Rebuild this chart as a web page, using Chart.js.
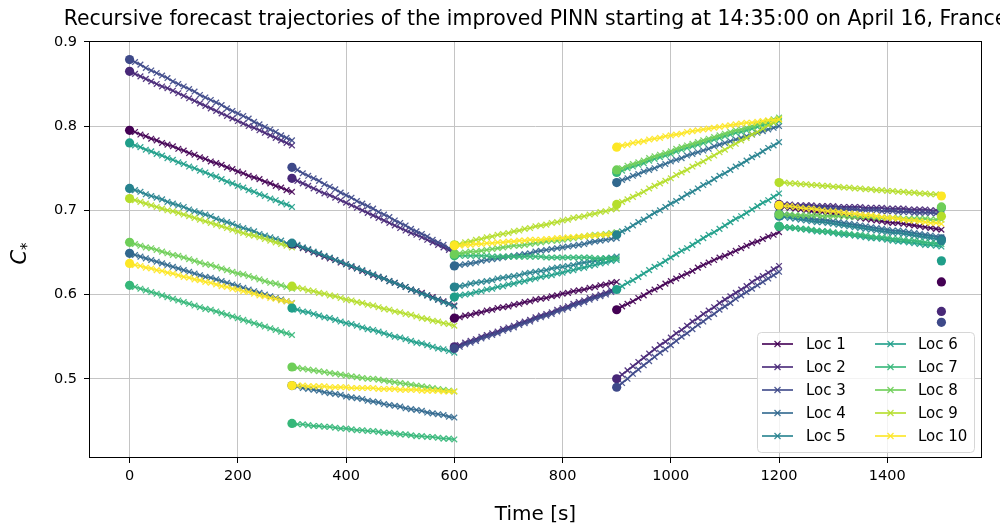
<!DOCTYPE html>
<html>
<head>
<meta charset="utf-8">
<script src="https://cdn.jsdelivr.net/npm/chart.js@4.4.1/dist/chart.umd.min.js"></script>
<style>
  html, body { margin: 0; padding: 0; background: #fff; }
  #wrap { width: 1000px; height: 528px; }
</style>
</head>
<body>
<div id="wrap"><canvas id="forecastChart" width="1000" height="528"></canvas></div>
<script>
const chartTitle = 'Recursive forecast trajectories of the improved PINN starting at 14:35:00 on April 16, France';
const xLabel = 'Time [s]';

const locNames = ['Loc 1', 'Loc 2', 'Loc 3', 'Loc 4', 'Loc 5', 'Loc 6', 'Loc 7', 'Loc 8', 'Loc 9', 'Loc 10'];
const locColors = ['#440154', '#482878', '#3e4989', '#31688e', '#26828e', '#1f9e89', '#35b779', '#6ece58', '#b5de2b', '#fde725'];

// each forecast window starts at an observation and runs 300 s in 10 s steps
const segmentStarts = [0, 300, 600, 900, 1200];
const stepOffsets = [0, 10, 20, 30, 40, 50, 60, 70, 80, 90, 100, 110, 120, 130, 140, 150,
    160, 170, 180, 190, 200, 210, 220, 230, 240, 250, 260, 270, 280, 290, 300];
const observedTimes = [0, 300, 600, 900, 1200, 1500];

const xTicks = [0, 200, 400, 600, 800, 1000, 1200, 1400];
const yTicks = [0.5, 0.6, 0.7, 0.8, 0.9];

const loc1Forecast = [
    [0.795,0.793,0.790,0.788,0.785,0.783,0.780,0.778,0.776,0.773,0.771,0.768,0.766,0.763,0.761,0.758,0.756,0.754,0.751,0.749,0.746,0.744,0.741,0.739,0.737,0.734,0.732,0.729,0.727,0.724,0.722],
    [0.660,0.658,0.655,0.653,0.650,0.648,0.645,0.643,0.641,0.638,0.636,0.633,0.631,0.628,0.626,0.623,0.621,0.619,0.616,0.614,0.611,0.609,0.606,0.604,0.602,0.599,0.597,0.594,0.592,0.589,0.587],
    [0.572,0.573,0.575,0.576,0.578,0.579,0.581,0.582,0.584,0.585,0.586,0.588,0.589,0.591,0.592,0.594,0.595,0.596,0.598,0.599,0.601,0.602,0.604,0.605,0.606,0.608,0.609,0.611,0.612,0.614,0.615],
    [0.582,0.586,0.589,0.592,0.596,0.599,0.603,0.606,0.609,0.613,0.616,0.619,0.622,0.625,0.628,0.632,0.635,0.638,0.641,0.644,0.646,0.649,0.652,0.655,0.658,0.661,0.663,0.666,0.669,0.671,0.674],
    [0.705,0.704,0.703,0.702,0.701,0.700,0.699,0.698,0.698,0.697,0.696,0.695,0.694,0.693,0.692,0.691,0.690,0.689,0.688,0.687,0.686,0.685,0.685,0.684,0.683,0.682,0.681,0.680,0.679,0.678,0.677]
];
const loc1Observed = [0.795, 0.660, 0.572, 0.582, 0.705, 0.615];

const loc2Forecast = [
    [0.865,0.862,0.859,0.856,0.853,0.850,0.847,0.845,0.842,0.839,0.836,0.833,0.830,0.827,0.824,0.821,0.818,0.815,0.812,0.809,0.806,0.803,0.800,0.798,0.795,0.792,0.789,0.786,0.783,0.780,0.777],
    [0.738,0.735,0.732,0.729,0.726,0.723,0.720,0.718,0.715,0.712,0.709,0.706,0.703,0.700,0.697,0.694,0.691,0.688,0.685,0.682,0.679,0.676,0.673,0.671,0.668,0.665,0.662,0.659,0.656,0.653,0.649],
    [0.538,0.540,0.543,0.545,0.547,0.550,0.552,0.554,0.556,0.559,0.561,0.563,0.566,0.568,0.570,0.573,0.575,0.577,0.579,0.582,0.584,0.586,0.589,0.591,0.593,0.596,0.598,0.600,0.602,0.605,0.607],
    [0.500,0.505,0.510,0.515,0.520,0.525,0.530,0.535,0.540,0.544,0.549,0.554,0.558,0.563,0.568,0.572,0.577,0.581,0.585,0.590,0.594,0.598,0.602,0.606,0.610,0.615,0.619,0.622,0.626,0.630,0.634],
    [0.707,0.707,0.707,0.706,0.706,0.706,0.706,0.705,0.705,0.705,0.705,0.704,0.704,0.704,0.704,0.704,0.703,0.703,0.703,0.703,0.702,0.702,0.702,0.702,0.701,0.701,0.701,0.701,0.700,0.700,0.700]
];
const loc2Observed = [0.865, 0.738, 0.538, 0.500, 0.707, 0.580];

const loc3Forecast = [
    [0.879,0.876,0.873,0.869,0.866,0.863,0.860,0.857,0.853,0.850,0.847,0.844,0.841,0.837,0.834,0.831,0.828,0.825,0.821,0.818,0.815,0.812,0.809,0.805,0.802,0.799,0.796,0.793,0.789,0.786,0.783],
    [0.751,0.748,0.744,0.741,0.738,0.735,0.731,0.728,0.725,0.721,0.718,0.715,0.711,0.708,0.705,0.702,0.698,0.695,0.692,0.688,0.685,0.682,0.678,0.675,0.672,0.669,0.665,0.662,0.659,0.655,0.652],
    [0.536,0.538,0.541,0.543,0.545,0.548,0.550,0.552,0.554,0.557,0.559,0.561,0.564,0.566,0.568,0.571,0.573,0.575,0.577,0.580,0.582,0.584,0.587,0.589,0.591,0.594,0.596,0.598,0.600,0.603,0.605],
    [0.490,0.495,0.500,0.506,0.511,0.516,0.521,0.526,0.531,0.535,0.540,0.545,0.550,0.554,0.559,0.564,0.568,0.573,0.577,0.582,0.586,0.590,0.595,0.599,0.603,0.607,0.611,0.615,0.619,0.623,0.627],
    [0.705,0.705,0.704,0.704,0.704,0.704,0.703,0.703,0.703,0.702,0.702,0.702,0.701,0.701,0.701,0.700,0.700,0.700,0.700,0.699,0.699,0.699,0.698,0.698,0.698,0.697,0.697,0.697,0.697,0.696,0.696]
];
const loc3Observed = [0.879, 0.751, 0.536, 0.490, 0.705, 0.567];

const loc4Forecast = [
    [0.649,0.647,0.645,0.643,0.641,0.639,0.637,0.635,0.633,0.631,0.629,0.627,0.625,0.623,0.621,0.620,0.618,0.616,0.614,0.612,0.610,0.608,0.606,0.604,0.602,0.600,0.598,0.596,0.594,0.592,0.590],
    [0.492,0.491,0.489,0.488,0.487,0.486,0.484,0.483,0.482,0.481,0.479,0.478,0.477,0.476,0.474,0.473,0.472,0.470,0.469,0.468,0.467,0.465,0.464,0.463,0.462,0.460,0.459,0.458,0.457,0.455,0.454],
    [0.634,0.635,0.636,0.637,0.638,0.640,0.641,0.642,0.643,0.644,0.645,0.646,0.647,0.648,0.649,0.651,0.652,0.653,0.654,0.655,0.656,0.657,0.658,0.659,0.660,0.662,0.663,0.664,0.665,0.666,0.667],
    [0.733,0.736,0.738,0.741,0.743,0.746,0.748,0.750,0.753,0.755,0.758,0.760,0.762,0.765,0.767,0.769,0.771,0.773,0.776,0.778,0.780,0.782,0.784,0.786,0.788,0.790,0.792,0.794,0.796,0.798,0.800],
    [0.696,0.695,0.694,0.693,0.692,0.691,0.690,0.689,0.689,0.688,0.687,0.686,0.685,0.684,0.683,0.682,0.681,0.680,0.679,0.678,0.677,0.676,0.676,0.675,0.674,0.673,0.672,0.671,0.670,0.669,0.668]
];
const loc4Observed = [0.649, 0.492, 0.634, 0.733, 0.696, 0.666];

const loc5Forecast = [
    [0.726,0.724,0.722,0.719,0.717,0.715,0.713,0.710,0.708,0.706,0.704,0.701,0.699,0.697,0.695,0.693,0.690,0.688,0.686,0.684,0.681,0.679,0.677,0.675,0.672,0.670,0.668,0.666,0.664,0.661,0.659],
    [0.661,0.659,0.656,0.654,0.651,0.649,0.646,0.644,0.641,0.639,0.636,0.634,0.631,0.629,0.626,0.624,0.621,0.619,0.616,0.614,0.611,0.609,0.606,0.604,0.601,0.599,0.596,0.594,0.591,0.589,0.586],
    [0.609,0.610,0.611,0.613,0.614,0.615,0.616,0.617,0.619,0.620,0.621,0.622,0.623,0.625,0.626,0.627,0.628,0.629,0.631,0.632,0.633,0.634,0.635,0.637,0.638,0.639,0.640,0.641,0.643,0.644,0.645],
    [0.671,0.675,0.678,0.682,0.686,0.689,0.693,0.697,0.700,0.704,0.708,0.711,0.715,0.719,0.722,0.726,0.730,0.733,0.737,0.741,0.744,0.748,0.752,0.755,0.759,0.763,0.766,0.770,0.774,0.777,0.781],
    [0.693,0.692,0.691,0.690,0.689,0.688,0.687,0.686,0.686,0.685,0.684,0.683,0.682,0.681,0.680,0.679,0.678,0.677,0.676,0.675,0.674,0.673,0.673,0.672,0.671,0.670,0.669,0.668,0.667,0.666,0.665]
];
const loc5Observed = [0.726, 0.661, 0.609, 0.671, 0.693, 0.664];

const loc6Forecast = [
    [0.780,0.777,0.775,0.772,0.770,0.767,0.765,0.762,0.760,0.757,0.755,0.752,0.750,0.747,0.745,0.742,0.740,0.737,0.734,0.732,0.729,0.727,0.724,0.722,0.719,0.717,0.714,0.712,0.709,0.707,0.704],
    [0.584,0.582,0.580,0.579,0.577,0.575,0.573,0.572,0.570,0.568,0.566,0.565,0.563,0.561,0.559,0.558,0.556,0.554,0.552,0.550,0.549,0.547,0.545,0.543,0.542,0.540,0.538,0.536,0.535,0.533,0.531],
    [0.597,0.599,0.600,0.601,0.603,0.604,0.606,0.607,0.609,0.610,0.612,0.613,0.615,0.616,0.618,0.619,0.621,0.622,0.623,0.625,0.626,0.628,0.629,0.631,0.632,0.634,0.635,0.637,0.638,0.640,0.641],
    [0.606,0.610,0.614,0.617,0.621,0.625,0.629,0.633,0.636,0.640,0.644,0.648,0.652,0.655,0.659,0.663,0.667,0.671,0.674,0.678,0.682,0.686,0.690,0.693,0.697,0.701,0.705,0.709,0.712,0.716,0.720],
    [0.681,0.680,0.679,0.679,0.678,0.677,0.676,0.675,0.675,0.674,0.673,0.672,0.671,0.671,0.670,0.669,0.668,0.667,0.667,0.666,0.665,0.664,0.663,0.663,0.662,0.661,0.660,0.659,0.659,0.658,0.657]
];
const loc6Observed = [0.780, 0.584, 0.597, 0.606, 0.681, 0.640];

const loc7Forecast = [
    [0.611,0.609,0.607,0.605,0.603,0.601,0.599,0.597,0.595,0.593,0.591,0.589,0.587,0.585,0.583,0.582,0.580,0.578,0.576,0.574,0.572,0.570,0.568,0.566,0.564,0.562,0.560,0.558,0.556,0.554,0.552],
    [0.447,0.446,0.446,0.445,0.444,0.444,0.443,0.443,0.442,0.441,0.441,0.440,0.439,0.439,0.438,0.438,0.437,0.436,0.436,0.435,0.434,0.434,0.433,0.432,0.432,0.431,0.431,0.430,0.429,0.429,0.428],
    [0.646,0.646,0.646,0.646,0.646,0.646,0.646,0.645,0.645,0.645,0.645,0.645,0.645,0.645,0.645,0.645,0.645,0.644,0.644,0.644,0.644,0.644,0.644,0.644,0.644,0.644,0.643,0.643,0.643,0.643,0.643],
    [0.745,0.747,0.750,0.752,0.754,0.756,0.759,0.761,0.763,0.765,0.767,0.770,0.772,0.774,0.776,0.778,0.780,0.782,0.784,0.786,0.788,0.790,0.792,0.793,0.795,0.797,0.799,0.801,0.803,0.804,0.806],
    [0.681,0.680,0.680,0.679,0.678,0.678,0.677,0.676,0.675,0.675,0.674,0.673,0.673,0.672,0.671,0.671,0.670,0.669,0.668,0.668,0.667,0.666,0.666,0.665,0.664,0.664,0.663,0.662,0.661,0.661,0.660]
];
const loc7Observed = [0.611, 0.447, 0.646, 0.745, 0.681, 0.703];

const loc8Forecast = [
    [0.662,0.660,0.658,0.656,0.655,0.653,0.651,0.649,0.647,0.646,0.644,0.642,0.640,0.638,0.636,0.635,0.633,0.631,0.629,0.627,0.625,0.624,0.622,0.620,0.618,0.616,0.614,0.613,0.611,0.609,0.607],
    [0.514,0.513,0.512,0.511,0.510,0.509,0.508,0.507,0.506,0.505,0.504,0.503,0.502,0.501,0.500,0.500,0.499,0.498,0.497,0.496,0.495,0.494,0.493,0.492,0.491,0.490,0.489,0.488,0.487,0.486,0.485],
    [0.648,0.649,0.650,0.651,0.651,0.652,0.653,0.654,0.655,0.656,0.657,0.658,0.658,0.659,0.660,0.661,0.662,0.663,0.664,0.664,0.665,0.666,0.667,0.668,0.669,0.670,0.671,0.671,0.672,0.673,0.674],
    [0.748,0.750,0.753,0.755,0.757,0.759,0.762,0.764,0.766,0.768,0.770,0.773,0.775,0.777,0.779,0.781,0.783,0.785,0.787,0.789,0.791,0.793,0.795,0.796,0.798,0.800,0.802,0.804,0.806,0.808,0.810],
    [0.695,0.695,0.695,0.694,0.694,0.694,0.694,0.694,0.693,0.693,0.693,0.693,0.693,0.692,0.692,0.692,0.692,0.692,0.691,0.691,0.691,0.691,0.691,0.690,0.690,0.690,0.690,0.690,0.689,0.689,0.689]
];
const loc8Observed = [0.662, 0.514, 0.648, 0.748, 0.695, 0.704];

const loc9Forecast = [
    [0.714,0.712,0.710,0.708,0.706,0.704,0.702,0.700,0.699,0.697,0.695,0.693,0.691,0.689,0.687,0.685,0.683,0.681,0.679,0.677,0.675,0.673,0.671,0.670,0.668,0.666,0.664,0.662,0.660,0.658,0.656],
    [0.610,0.608,0.607,0.605,0.604,0.602,0.601,0.599,0.598,0.596,0.594,0.593,0.591,0.590,0.588,0.587,0.585,0.583,0.582,0.580,0.579,0.577,0.576,0.574,0.572,0.571,0.569,0.568,0.566,0.565,0.563],
    [0.659,0.660,0.662,0.663,0.665,0.666,0.668,0.669,0.671,0.672,0.673,0.675,0.676,0.678,0.679,0.681,0.682,0.683,0.685,0.686,0.688,0.689,0.691,0.692,0.693,0.695,0.696,0.698,0.699,0.701,0.702],
    [0.707,0.710,0.713,0.716,0.719,0.722,0.726,0.729,0.732,0.735,0.738,0.742,0.745,0.748,0.752,0.755,0.758,0.762,0.765,0.769,0.772,0.776,0.779,0.783,0.786,0.790,0.793,0.797,0.801,0.804,0.808],
    [0.733,0.733,0.732,0.732,0.731,0.731,0.730,0.730,0.729,0.729,0.728,0.728,0.727,0.727,0.726,0.726,0.725,0.725,0.724,0.724,0.723,0.723,0.722,0.722,0.721,0.721,0.720,0.720,0.719,0.719,0.718]
];
const loc9Observed = [0.714, 0.610, 0.659, 0.707, 0.733, 0.693];

const loc10Forecast = [
    [0.637,0.635,0.634,0.632,0.631,0.629,0.628,0.626,0.625,0.623,0.621,0.620,0.618,0.617,0.615,0.614,0.612,0.610,0.609,0.607,0.606,0.604,0.603,0.601,0.599,0.598,0.596,0.595,0.593,0.592,0.590],
    [0.492,0.492,0.492,0.491,0.491,0.491,0.491,0.490,0.490,0.490,0.490,0.489,0.489,0.489,0.489,0.489,0.488,0.488,0.488,0.488,0.487,0.487,0.487,0.487,0.486,0.486,0.486,0.486,0.485,0.485,0.485],
    [0.658,0.658,0.659,0.659,0.660,0.660,0.661,0.661,0.662,0.662,0.663,0.663,0.664,0.664,0.665,0.665,0.665,0.666,0.666,0.667,0.667,0.668,0.668,0.669,0.669,0.670,0.670,0.671,0.671,0.672,0.672],
    [0.775,0.777,0.778,0.780,0.781,0.782,0.784,0.785,0.786,0.788,0.789,0.790,0.791,0.793,0.794,0.795,0.796,0.797,0.798,0.799,0.800,0.801,0.802,0.803,0.804,0.804,0.805,0.806,0.807,0.807,0.808],
    [0.706,0.705,0.705,0.704,0.703,0.702,0.702,0.701,0.700,0.699,0.699,0.698,0.697,0.696,0.696,0.695,0.694,0.694,0.693,0.692,0.691,0.691,0.690,0.689,0.688,0.688,0.687,0.686,0.685,0.685,0.684]
];
const loc10Observed = [0.637, 0.492, 0.658, 0.775, 0.706, 0.717];

const forecasts = [loc1Forecast, loc2Forecast, loc3Forecast, loc4Forecast, loc5Forecast,
    loc6Forecast, loc7Forecast, loc8Forecast, loc9Forecast, loc10Forecast];
const observations = [loc1Observed, loc2Observed, loc3Observed, loc4Observed, loc5Observed,
    loc6Observed, loc7Observed, loc8Observed, loc9Observed, loc10Observed];

const FONT = 'DejaVu Sans, Verdana, sans-serif';
const LINE_ALPHA = 'e6';

// later datasets must sit on top, so order runs downwards
const datasets = [];
let layer = 0;
forecasts.forEach((segments, k) => {
    segments.forEach((values, s) => {
        datasets.push({
            label: locNames[k],
            data: values.map((v, i) => ({ x: segmentStarts[s] + stepOffsets[i], y: v })),
            showLine: true,
            borderColor: locColors[k] + LINE_ALPHA,
            borderWidth: 1.8,
            pointStyle: 'crossRot',
            pointRadius: 4,
            pointBorderWidth: 1.3,
            pointBorderColor: locColors[k] + LINE_ALPHA,
            pointBackgroundColor: locColors[k],
            order: -(layer++)
        });
    });
});
observations.forEach((values, k) => {
    datasets.push({
        label: locNames[k] + ' obs',
        data: values.map((v, i) => ({ x: observedTimes[i], y: v })),
        showLine: false,
        pointStyle: 'circle',
        pointRadius: 4.6,
        pointBorderWidth: 0,
        pointBackgroundColor: locColors[k],
        order: -(layer++)
    });
});

function drawLegend(ctx) {
    const box = { x: 757, y: 332, w: 217, h: 120 };
    ctx.save();
    ctx.beginPath();
    ctx.roundRect(box.x + 0.5, box.y + 0.5, box.w, box.h, 4);
    ctx.fillStyle = 'rgba(255,255,255,0.8)';
    ctx.fill();
    ctx.strokeStyle = '#d6d6d6';
    ctx.lineWidth = 1;
    ctx.stroke();

    ctx.font = '15px ' + FONT;
    ctx.textBaseline = 'middle';
    ctx.fillStyle = '#000';
    locNames.forEach((name, k) => {
        const col = Math.floor(k / 5);
        const row = k % 5;
        const hx = col === 0 ? 762 : 875;
        const tx = col === 0 ? 806 : 918;
        const y = 344 + row * 23;
        const c = locColors[k] + LINE_ALPHA;
        ctx.strokeStyle = c;
        ctx.lineWidth = 1.8;
        ctx.beginPath();
        ctx.moveTo(hx, y);
        ctx.lineTo(hx + 31, y);
        ctx.stroke();
        const mx = hx + 15.5;
        ctx.lineWidth = 1.3;
        ctx.beginPath();
        ctx.moveTo(mx - 3, y - 3); ctx.lineTo(mx + 3, y + 3);
        ctx.moveTo(mx - 3, y + 3); ctx.lineTo(mx + 3, y - 3);
        ctx.stroke();
        ctx.fillText(name, tx, y + 1);
    });
    ctx.restore();
}

const decorations = {
    id: 'decorations',
    afterDraw(chart) {
        const { ctx, chartArea: a } = chart;
        ctx.save();
        // axes frame
        ctx.strokeStyle = '#000';
        ctx.lineWidth = 1;
        ctx.strokeRect(a.left + 0.5, a.top + 0.5, a.right - a.left - 1, a.bottom - a.top - 1);

        const cx = (a.left + a.right) / 2;
        ctx.fillStyle = '#000';
        ctx.textAlign = 'center';
        ctx.textBaseline = 'alphabetic';
        ctx.font = '20.4px ' + FONT;
        ctx.fillText(chartTitle, cx, 25);
        ctx.font = '20px ' + FONT;
        ctx.fillText(xLabel, cx, 520);

        // y label: italic C with a starred subscript, rotated
        ctx.translate(19, (a.top + a.bottom) / 2 + 4);
        ctx.rotate(-Math.PI / 2);
        ctx.font = 'italic 21px ' + FONT;
        const wC = ctx.measureText('C').width;
        ctx.font = '15px ' + FONT;
        const wS = ctx.measureText('*').width;
        const x0 = -(wC + wS) / 2;
        ctx.textAlign = 'left';
        ctx.font = 'italic 21px ' + FONT;
        ctx.fillText('C', x0, 7);
        ctx.font = '15px ' + FONT;
        ctx.fillText('*', x0 + wC, 13);
        ctx.restore();

        drawLegend(ctx);
    }
};

new Chart(document.getElementById('forecastChart'), {
    type: 'scatter',
    data: { datasets },
    options: {
        responsive: false,
        devicePixelRatio: 1,
        animation: false,
        layout: { padding: { top: 41, right: 18, left: 0, bottom: 0 } },
        plugins: {
            legend: { display: false },
            tooltip: { enabled: false },
            title: { display: false }
        },
        scales: {
            x: {
                type: 'linear',
                min: -75,
                max: 1575,
                afterBuildTicks: s => { s.ticks = xTicks.map(v => ({ value: v })); },
                afterFit: s => { s.height = 70; },
                border: { display: false },
                grid: { color: '#c4c4c4', lineWidth: 1, tickColor: '#000', tickLength: 5, tickWidth: 1 },
                ticks: { color: '#000', font: { family: FONT, size: 14.5 }, padding: 5, maxRotation: 0, callback: v => String(v) }
            },
            y: {
                type: 'linear',
                min: 0.406,
                max: 0.901,
                afterBuildTicks: s => { s.ticks = yTicks.map(v => ({ value: v })); },
                afterFit: s => { s.width = 89; },
                border: { display: false },
                grid: { color: '#c4c4c4', lineWidth: 1, tickColor: '#000', tickLength: 5, tickWidth: 1 },
                ticks: { color: '#000', font: { family: FONT, size: 14.5 }, padding: 7, callback: v => v.toFixed(1) }
            }
        }
    },
    plugins: [decorations]
});
</script>
</body>
</html>
